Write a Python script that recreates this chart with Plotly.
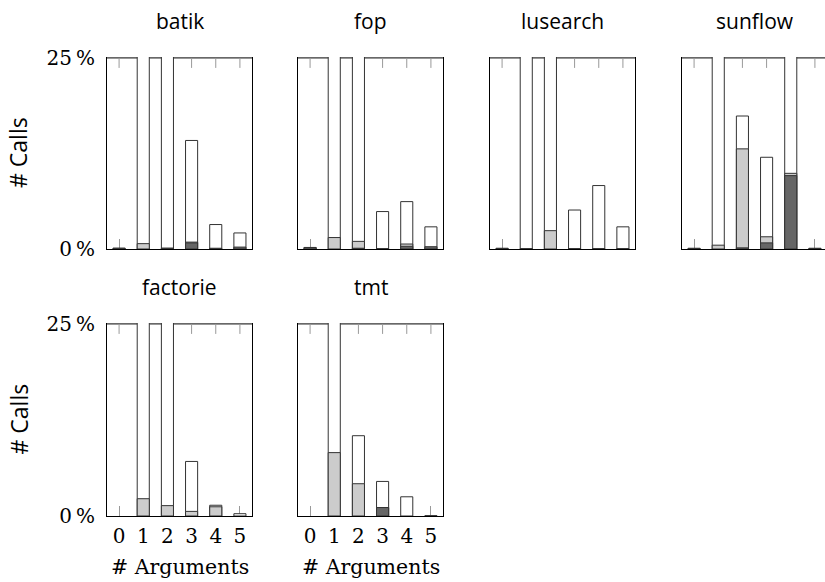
import plotly.graph_objects as go

# ---------------- data ----------------
benchmarks = ["batik", "fop", "lusearch", "sunflow", "factorie", "tmt"]
arguments = [0, 1, 2, 3, 4, 5]
tick_labels = ["0", "1", "2", "3", "4", "5"]
y_tick_vals = [0, 25]
y_tick_text = ["0\u2009%", "25\u2009%"]

# share of calls (%) per number of arguments; bars above 25 % are clipped
batik_total = [0.1, 40, 40, 14.2, 3.2, 2.1]
batik_light = [0, 0.7, 0.1, 0.9, 0, 0]
batik_dark = [0.1, 0, 0.1, 0.8, 0.1, 0.25]

fop_total = [0.2, 40, 40, 4.9, 6.2, 2.9]
fop_light = [0, 1.5, 1.0, 0, 0.65, 0]
fop_dark = [0.2, 0, 0.1, 0.05, 0.35, 0.3]

lusearch_total = [0.1, 40, 40, 5.1, 8.3, 2.9]
lusearch_light = [0, 0, 2.4, 0, 0, 0]
lusearch_dark = [0.05, 0.05, 0, 0.05, 0.05, 0.05]

sunflow_total = [0.1, 40, 17.4, 12.0, 40, 0.1]
sunflow_light = [0, 0.5, 13.1, 1.6, 9.9, 0]
sunflow_dark = [0.05, 0, 0.15, 0.8, 9.6, 0.05]

factorie_total = [0, 40, 40, 7.1, 1.4, 0.3]
factorie_light = [0, 2.25, 1.35, 0.6, 1.2, 0]
factorie_dark = [0, 0, 0, 0, 0, 0]

tmt_total = [0, 40, 10.45, 4.5, 2.5, 0.05]
tmt_light = [0, 8.25, 4.2, 1.1, 0, 0]
tmt_dark = [0, 0, 0, 1.1, 0, 0]

totals = [batik_total, fop_total, lusearch_total, sunflow_total, factorie_total, tmt_total]
lights = [batik_light, fop_light, lusearch_light, sunflow_light, factorie_light, tmt_light]
darks = [batik_dark, fop_dark, lusearch_dark, sunflow_dark, factorie_dark, tmt_dark]

# ---------------- styling / layout ----------------
W, H = 825, 582
FILL_WHITE, FILL_LIGHT, FILL_DARK = "#ffffff", "#cccccc", "#666666"
EDGE = "#333333"
TICK_COLOR = "#999999"
SERIF = "DejaVu Serif"
SANS = "Open Sans"

col_left = [107, 298, 490, 682]
panel_w = 145
row_top = [57, 323]
row_bottom = [249, 516]
px_per_unit = panel_w / 6.0
Y_MAX = 25.12
TICK_LEN_PX = 10


def nz(vals):
    return [v if v > 0 else None for v in vals]


fig = go.Figure()
layout = dict(
    width=W, height=H, margin=dict(l=0, r=0, t=0, b=0, pad=0, autoexpand=False),
    paper_bgcolor="white", plot_bgcolor="white",
    barmode="overlay", showlegend=False,
)
shapes = []
annotations = []

for i, name in enumerate(benchmarks):
    row, col = divmod(i, 4)
    n = i + 1
    xk = "x" if n == 1 else f"x{n}"
    yk = "y" if n == 1 else f"y{n}"
    left = col_left[col]
    right = min(left + panel_w, W)
    xdom = [left / W, right / W]
    ydom = [1 - row_bottom[row] / H, 1 - row_top[row] / H]
    xrange_ = [-0.5, -0.5 + (right - left) / px_per_unit]
    px_per_pct = (row_bottom[row] - row_top[row]) / Y_MAX
    tick_bottom = 25 - TICK_LEN_PX / px_per_pct

    for vals, fill in ((totals[i], FILL_WHITE), (lights[i], FILL_LIGHT), (darks[i], FILL_DARK)):
        fig.add_trace(go.Bar(
            x=arguments, y=nz(vals), width=0.5,
            marker=dict(color=fill, line=dict(color=EDGE, width=1)),
            xaxis=xk, yaxis=yk, hoverinfo="skip", showlegend=False,
        ))

    # mirrored tick marks along the top border; hidden where a bar reaches them
    tx, ty = [], []
    for a, tot in zip(arguments, totals[i]):
        if tot < tick_bottom:
            tx += [a, a, None]
            ty += [25, tick_bottom, None]
    fig.add_trace(go.Scatter(
        x=tx, y=ty, mode="lines", line=dict(color=TICK_COLOR, width=1),
        xaxis=xk, yaxis=yk, hoverinfo="skip", showlegend=False,
    ))

    bottom_row = row == 1
    layout[("xaxis" if n == 1 else f"xaxis{n}")] = dict(
        domain=xdom, anchor=yk, range=xrange_, fixedrange=True, automargin=False,
        tickmode="array", tickvals=arguments, ticktext=tick_labels,
        showticklabels=bottom_row, ticks="inside", ticklen=TICK_LEN_PX, tickwidth=1,
        tickcolor=TICK_COLOR, showline=True, linecolor="black", linewidth=1,
        mirror=False, showgrid=False, zeroline=False, layer="below traces",
        tickfont=dict(family=SERIF, size=20, color="black"),
        ticklabelstandoff=2,
    )
    layout[("yaxis" if n == 1 else f"yaxis{n}")] = dict(
        domain=ydom, anchor=xk, range=[0, Y_MAX], fixedrange=True, automargin=False,
        tickmode="array", tickvals=y_tick_vals, ticktext=y_tick_text,
        showticklabels=(col == 0), ticks="", showline=True, linecolor="black",
        linewidth=1, mirror=True, showgrid=False, zeroline=False,
        tickfont=dict(family=SERIF, size=20, color="black"),
        ticklabelstandoff=7,
    )
    # top border of the frame, drawn beneath the bars (clipped bars hide it)
    shapes.append(dict(
        type="line", xref=f"{xk} domain", yref=yk, x0=0, x1=1, y0=25, y1=25,
        layer="below", line=dict(color="black", width=1),
    ))
    # panel title
    annotations.append(dict(
        text=name, xref="paper", yref="paper",
        x=(left + panel_w / 2) / W, y=1 - (row_top[row] - 36) / H,
        showarrow=False, xanchor="center", yanchor="middle",
        font=dict(family=SANS, size=21, color="black"),
    ))
    if bottom_row:
        annotations.append(dict(
            text="# Arguments", xref="paper", yref="paper",
            x=(left + panel_w / 2) / W, y=1 - 567 / H,
            showarrow=False, xanchor="center", yanchor="middle",
            font=dict(family=SERIF, size=20.5, color="black"),
        ))
    if col == 0:
        annotations.append(dict(
            text="# Calls", xref="paper", yref="paper", textangle=-90,
            x=18 / W, y=1 - (row_top[row] + row_bottom[row]) / 2 / H,
            showarrow=False, xanchor="center", yanchor="middle",
            font=dict(family=SANS, size=23, color="black"),
        ))

layout["shapes"] = shapes
layout["annotations"] = annotations
fig.update_layout(**layout)
fig.write_html("out.html")
